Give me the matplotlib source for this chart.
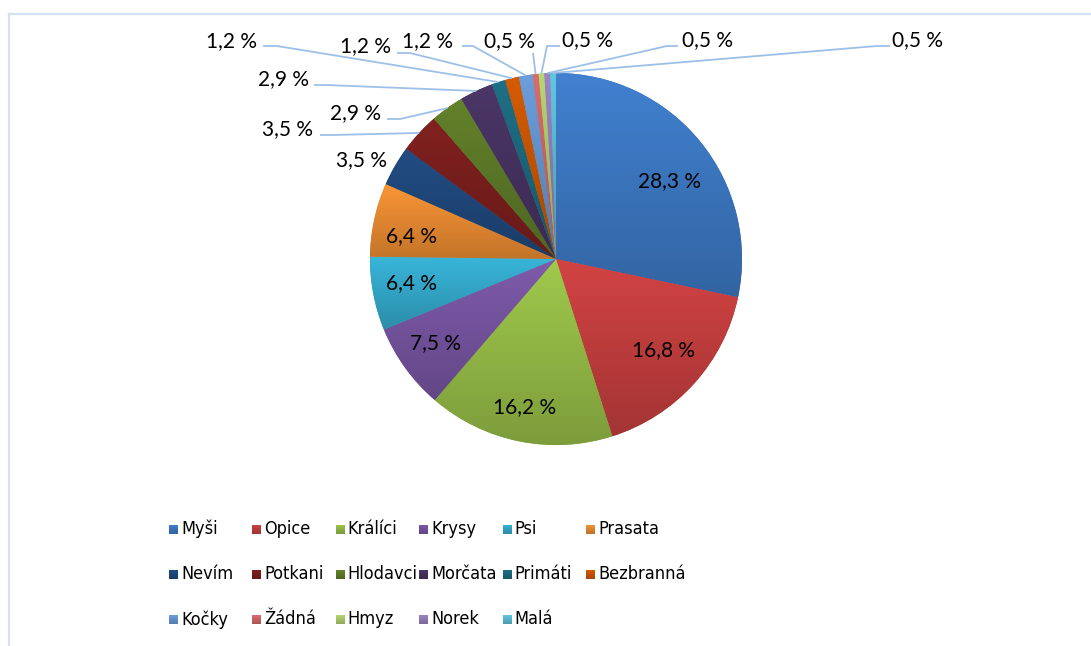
import numpy as np
import matplotlib
matplotlib.use('Agg')
import matplotlib.pyplot as plt
from matplotlib.colors import to_rgb
from matplotlib.patches import Rectangle
from matplotlib.lines import Line2D
from matplotlib import font_manager

# ---------------- data ----------------
categories = ['Myši', 'Opice', 'Králíci', 'Krysy', 'Psi', 'Prasata',
              'Nevím', 'Potkani', 'Hlodavci', 'Morčata', 'Primáti', 'Bezbranná',
              'Kočky', 'Žádná', 'Hmyz', 'Norek', 'Malá']
values = [28.3, 16.8, 16.2, 7.5, 6.4, 6.4,
          3.5, 3.5, 2.9, 2.9, 1.2, 1.2,
          1.2, 0.5, 0.5, 0.5, 0.5]
value_labels = [f"{v:.1f} %".replace('.', ',') for v in values]

# ---------------- style ----------------
top_colors = ['#4181D0', '#D24343', '#A0C94C', '#7F5BAC', '#38B5D9', '#FA9536',
              '#224D84', '#82211F', '#63822B', '#4B3667', '#1F6F86', '#D65B02',
              '#6C9EDD', '#DB6C6C', '#B6D771', '#9D84C5', '#60C7E1']
DARK = 0.78
W, H = 1091, 646
CX, CY, R = 556, 259, 186

LABEL_FONT = ['Lato', 'DejaVu Sans']
LINE_COLOR = '#9DC0E8'


def pick_legend_font():
    fl = font_manager.fontManager.ttflist
    def regular(f):
        return f.style == 'normal' and f.weight in (400, 'normal', 'regular', 'book')
    for f in fl:
        if f.name == 'Liberation Sans Narrow' and regular(f):
            return font_manager.FontProperties(fname=f.fname), 14
    for f in fl:
        if f.fname.endswith('DejaVuSansCondensed.ttf'):
            return font_manager.FontProperties(fname=f.fname), 13
    return font_manager.FontProperties(family='Lato'), 11.5


legend_fp, legend_size = pick_legend_font()


def Y(y):
    return H - y


fig = plt.figure(figsize=(W / 100, H / 100), dpi=100)
fig.patch.set_facecolor('white')
ax = fig.add_axes([0, 0, 1, 1])

wedges, _ = ax.pie(values, startangle=90, counterclock=False, radius=R,
                   center=(CX, Y(CY)),
                   colors=[tuple(np.array(to_rgb(c)) * DARK) for c in top_colors],
                   wedgeprops=dict(linewidth=0, antialiased=True))


def gradient_fill(patch, xmin, xmax, ymin, ymax, color, z):
    top = np.array(to_rgb(color))
    bot = top * DARK
    t = np.linspace(0, 1, 64)[:, None]
    grad = (bot[None, :] * (1 - t) + top[None, :] * t)[:, None, :]
    im = ax.imshow(grad, extent=(xmin, xmax, ymin, ymax), origin='lower',
                   aspect='auto', interpolation='bilinear', zorder=z)
    im.set_clip_path(patch)


for w, c in zip(wedges, top_colors):
    t = np.radians(np.linspace(w.theta1, w.theta2, 80))
    xs = np.concatenate([[w.center[0]], w.center[0] + w.r * np.cos(t)])
    ys = np.concatenate([[w.center[1]], w.center[1] + w.r * np.sin(t)])
    gradient_fill(w, xs.min(), xs.max(), ys.min(), ys.max(), c, w.get_zorder() + 0.1)

# label layout: text centre, and for outer labels leader attach + elbow points
label_layout = {
    0: ((669, 181), None, None),
    1: ((664, 350), None, None),
    2: ((525, 407), None, None),
    3: ((436, 343), None, None),
    4: ((411, 283), None, None),
    5: ((411, 236), None, None),
    6: ((361, 160), None, None),
    7: ((288, 129), (320, 135), (333, 135)),
    8: ((355, 113), (387, 119), (400, 119)),
    9: ((283, 79), (314, 85), (326, 85)),
    10: ((231, 41), (263, 46), (277, 46)),
    11: ((365, 46), (397, 53), (410, 53)),
    12: ((428, 41), (462, 46), (473, 46)),
    13: ((510, 41), (533, 53), (533, 53)),
    14: ((588, 40), (560, 46), (547, 46)),
    15: ((708, 40), (678, 46), (667, 46)),
    16: ((918, 40), (890, 46), (877, 46)),
}
for i, (tpos, att, elb) in label_layout.items():
    ax.text(tpos[0], Y(tpos[1]), value_labels[i], ha='center', va='center',
            fontsize=15, family=LABEL_FONT, color='black', zorder=10)
    if att is None:
        continue
    w = wedges[i]
    mid = np.radians((w.theta1 + w.theta2) / 2)
    ex = w.center[0] + w.r * np.cos(mid)
    ey = w.center[1] + w.r * np.sin(mid)
    ax.plot([att[0], elb[0], ex], [Y(att[1]), Y(elb[1]), ey], color=LINE_COLOR,
            lw=1.3, solid_capstyle='butt', zorder=9)

# legend (row-major, 6 columns)
for k, (cat, c) in enumerate(zip(categories, top_colors)):
    row, col = divmod(k, 6)
    mx = 169 + col * 83.4
    my = 529 + row * 45.2
    sq = Rectangle((mx, Y(my) - 4.5), 9, 9, facecolor=tuple(np.array(to_rgb(c)) * DARK),
                   edgecolor='none', zorder=5)
    ax.add_patch(sq)
    gradient_fill(sq, mx, mx + 9, Y(my) - 4.5, Y(my) + 4.5, c, 6)
    tx = ax.text(mx + 12, Y(my), cat, ha='left', va='center', color='black',
                 zorder=10, fontproperties=legend_fp)
    tx.set_fontsize(legend_size)

# chart-area border (top and left visible)
border = '#D5E0F1'
ax.add_line(Line2D([8.5, W], [Y(14), Y(14)], color=border, lw=1.6, zorder=1))
ax.add_line(Line2D([8.5, 8.5], [Y(14), 0], color=border, lw=1.6, zorder=1))

ax.set_xlim(0, W)
ax.set_ylim(0, H)
ax.set_aspect('auto')
ax.axis('off')

fig.savefig('out.png', dpi=100, facecolor='white')
